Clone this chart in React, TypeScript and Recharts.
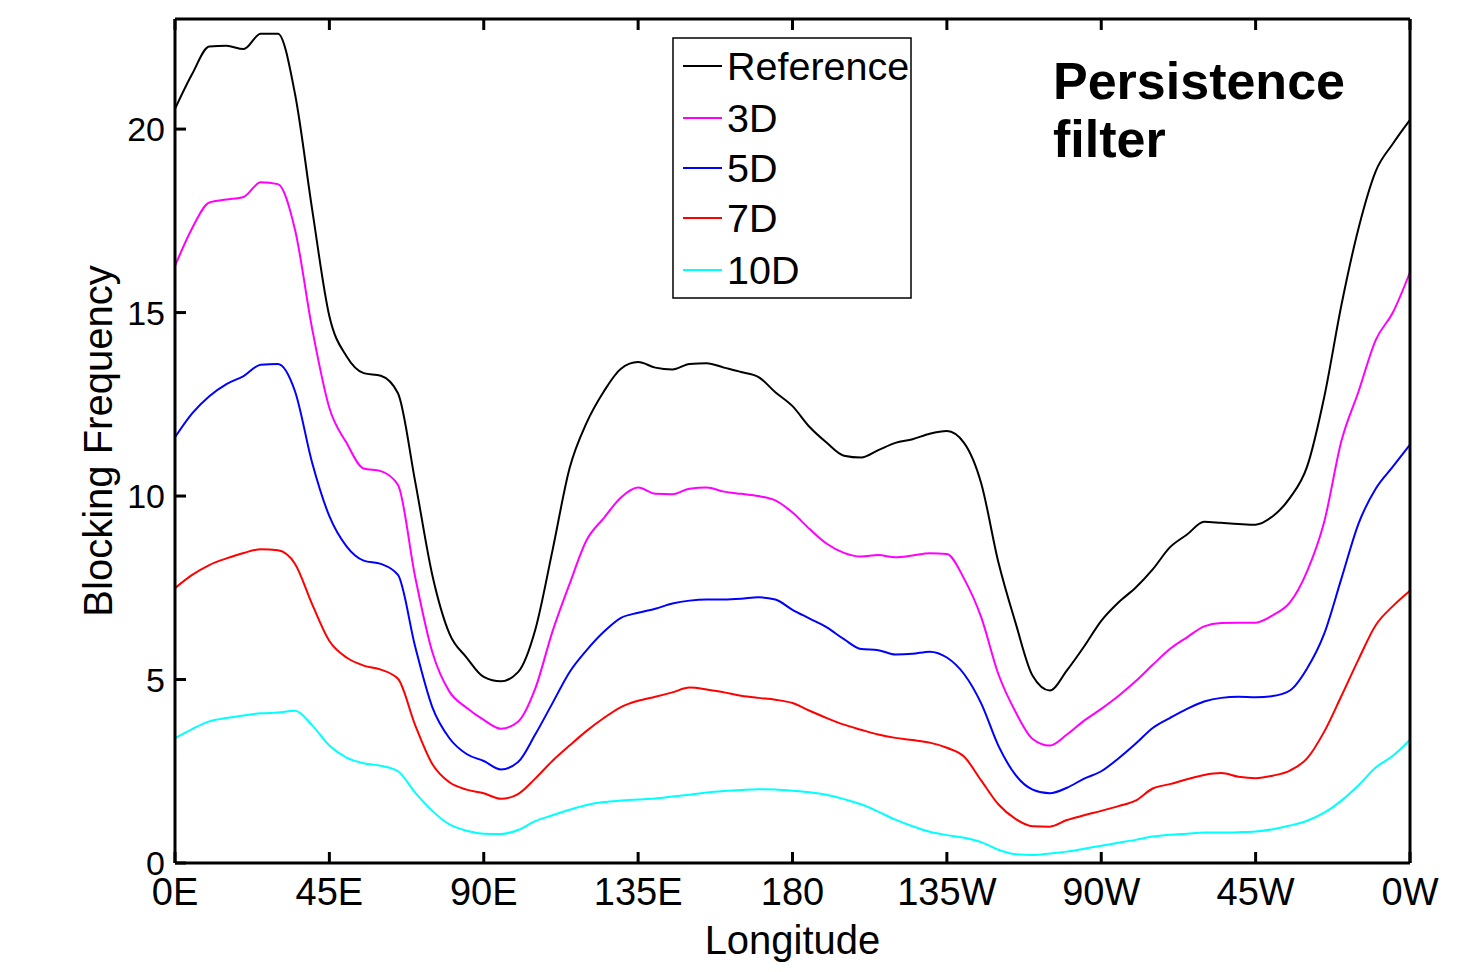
import React from 'react';
import { LineChart, Line, XAxis, YAxis, Legend, Label } from 'recharts';

const FONT = '"Liberation Sans", Arial, Helvetica, sans-serif';

const longitudes = [
  0, 5, 10, 15, 20, 25, 30, 35, 40, 45, 50, 55, 60, 65, 70, 75, 80, 85, 90, 95,
  100, 105, 110, 115, 120, 125, 130, 135, 140, 145, 150, 155, 160, 165, 170, 175, 180, 185, 190, 195,
  200, 205, 210, 215, 220, 225, 230, 235, 240, 245, 250, 255, 260, 265, 270, 275, 280, 285, 290, 295,
  300, 305, 310, 315, 320, 325, 330, 335, 340, 345, 350, 355, 360,
];

const reference = [
  20.55, 21.5, 22.25, 22.27, 22.18, 22.6, 22.6, 20.95, 17.8, 14.9, 13.81, 13.35, 13.28, 12.8, 10.4, 7.85, 6.25, 5.6, 5.07, 4.95,
  5.2, 6.35, 8.5, 10.75, 12.0, 12.85, 13.47, 13.65, 13.5, 13.45, 13.6, 13.62, 13.5, 13.38, 13.25, 12.83, 12.45, 11.88, 11.45, 11.1,
  11.05, 11.25, 11.45, 11.55, 11.7, 11.77, 11.45, 10.35, 8.2, 6.55, 5.1, 4.7, 5.25, 5.9, 6.6, 7.1, 7.5, 8.0, 8.6, 8.95,
  9.3, 9.27, 9.24, 9.22, 9.45, 9.95, 10.8, 12.7, 15.2, 17.3, 18.85, 19.6, 20.25,
];

const d3 = [
  16.27, 17.3, 18.0, 18.08, 18.15, 18.55, 18.5, 17.25, 14.55, 12.4, 11.45, 10.75, 10.68, 10.3, 7.8, 5.75, 4.67, 4.23, 3.9, 3.66,
  3.85, 4.75, 6.3, 7.6, 8.8, 9.4, 9.96, 10.23, 10.06, 10.05, 10.2, 10.23, 10.12, 10.06, 10.0, 9.88, 9.55, 9.1, 8.7, 8.45,
  8.35, 8.39, 8.33, 8.38, 8.44, 8.42, 7.75, 6.7, 5.15, 4.12, 3.38, 3.2, 3.5, 3.88, 4.2, 4.55, 4.95, 5.4, 5.83, 6.15,
  6.45, 6.54, 6.55, 6.55, 6.75, 7.1, 7.95, 9.3, 11.5, 12.85, 14.25, 15.0, 16.1,
];

const d5 = [
  11.6, 12.25, 12.72, 13.05, 13.27, 13.58, 13.6, 12.85, 10.9, 9.45, 8.63, 8.24, 8.15, 7.85, 5.9, 4.25, 3.4, 2.97, 2.78, 2.55,
  2.75, 3.5, 4.35, 5.2, 5.8, 6.3, 6.68, 6.82, 6.93, 7.07, 7.15, 7.18, 7.18, 7.2, 7.24, 7.18, 6.9, 6.66, 6.42, 6.1,
  5.83, 5.8, 5.68, 5.7, 5.76, 5.6, 5.15, 4.35, 3.2, 2.4, 2.0, 1.9, 2.05, 2.3, 2.5, 2.85, 3.25, 3.68, 3.95, 4.2,
  4.4, 4.5, 4.53, 4.52, 4.55, 4.7, 5.3, 6.25, 7.75, 9.25, 10.2, 10.8, 11.4,
];

const d7 = [
  7.49, 7.85, 8.12, 8.3, 8.45, 8.55, 8.52, 8.15, 7.05, 6.05, 5.6, 5.38, 5.27, 5.02, 3.76, 2.7, 2.2, 2.0, 1.9, 1.75,
  1.88, 2.3, 2.78, 3.2, 3.6, 3.95, 4.25, 4.42, 4.53, 4.65, 4.78, 4.73, 4.65, 4.56, 4.5, 4.45, 4.36, 4.15, 3.95, 3.77,
  3.63, 3.5, 3.41, 3.35, 3.28, 3.14, 2.9, 2.25, 1.6, 1.2, 1.0, 0.99, 1.17, 1.3, 1.42, 1.55, 1.7, 2.03, 2.15, 2.28,
  2.4, 2.45, 2.35, 2.31, 2.38, 2.52, 2.85, 3.58, 4.55, 5.55, 6.48, 7.0, 7.42,
];

const d10 = [
  3.4, 3.65, 3.86, 3.95, 4.02, 4.08, 4.1, 4.15, 3.75, 3.2, 2.87, 2.72, 2.65, 2.5, 1.92, 1.42, 1.05, 0.88, 0.8, 0.79,
  0.9, 1.14, 1.3, 1.45, 1.58, 1.66, 1.7, 1.73, 1.76, 1.81, 1.86, 1.92, 1.96, 1.99, 2.01, 2.0, 1.97, 1.93, 1.86, 1.74,
  1.6, 1.4, 1.18, 1.0, 0.85, 0.76, 0.69, 0.57, 0.36, 0.24, 0.22, 0.26, 0.31, 0.39, 0.47, 0.55, 0.63, 0.72, 0.77, 0.8,
  0.83, 0.83, 0.84, 0.86, 0.92, 1.02, 1.15, 1.37, 1.7, 2.12, 2.6, 2.92, 3.36,
];

const seriesKeys = ['ref', 'd3', 'd5', 'd7', 'd10'];
const seriesNames = ['Reference', '3D', '5D', '7D', '10D'];
const seriesColors = ['#000000', '#ff00ff', '#0000ff', '#ff0000', '#00ffff'];
const seriesValues = [reference, d3, d5, d7, d10];

const xTicks = [0, 45, 90, 135, 180, 225, 270, 315, 360];
const xTickLabels = ['0E', '45E', '90E', '135E', '180', '135W', '90W', '45W', '0W'];
const yTicks = [0, 5, 10, 15, 20];

const data = longitudes.map((lon, i) => {
  const row: Record<string, number> = { lon };
  seriesKeys.forEach((k, s) => {
    row[k] = seriesValues[s][i];
  });
  return row;
});

const TICK_LEN = 11;
const AX_W = 3;

const BottomTick = (props: any) => {
  const { x, y, payload } = props;
  const idx = xTicks.indexOf(payload.value);
  return (
    <g>
      <line x1={x} y1={y} x2={x} y2={y - TICK_LEN} stroke="#000" strokeWidth={AX_W} />
      <text x={x} y={y + 42} textAnchor="middle" fontSize={38} fontFamily={FONT} fill="#000">
        {idx >= 0 ? xTickLabels[idx] : String(payload.value)}
      </text>
    </g>
  );
};

const TopTick = (props: any) => {
  const { x, y } = props;
  return <line x1={x} y1={y} x2={x} y2={y + TICK_LEN} stroke="#000" strokeWidth={AX_W} />;
};

const LeftTick = (props: any) => {
  const { x, y, payload } = props;
  return (
    <g>
      <line x1={x} y1={y} x2={x + TICK_LEN} y2={y} stroke="#000" strokeWidth={AX_W} />
      <text x={x - 10} y={y + 12} textAnchor="end" fontSize={34} fontFamily={FONT} fill="#000">
        {payload.value}
      </text>
    </g>
  );
};

const RightTick = (props: any) => {
  const { x, y } = props;
  return <line x1={x} y1={y} x2={x - TICK_LEN} y2={y} stroke="#000" strokeWidth={AX_W} />;
};

const LegendBox = () => {
  const rowY = [29, 81, 131, 181, 233];
  return (
    <svg width={240} height={262} style={{ overflow: 'visible', display: 'block' }}>
      <rect x={1} y={1} width={238} height={260} fill="#fff" stroke="#000" strokeWidth={1.5} />
      {seriesNames.map((name, i) => (
        <g key={name}>
          <line x1={11} y1={rowY[i]} x2={50} y2={rowY[i]} stroke={seriesColors[i]} strokeWidth={2} />
          <text x={55} y={rowY[i] + 13.5} fontSize={39.5} fontFamily={FONT} fill="#000">
            {name}
          </text>
        </g>
      ))}
    </svg>
  );
};

export default function App() {
  return (
    <div style={{ position: 'relative', width: 1466, height: 956 }}>
      <LineChart
        width={1466}
        height={956}
        data={data}
        margin={{ top: 10, right: 63, bottom: 31, left: 12 }}
      >
        <XAxis
          dataKey="lon"
          type="number"
          domain={[0, 360]}
          ticks={xTicks}
          interval={0}
          height={70}
          tickSize={0}
          tickMargin={0}
          tickLine={false}
          axisLine={{ stroke: '#000', strokeWidth: AX_W }}
          tick={<BottomTick />}
        >
          <Label
            value="Longitude"
            position="bottom"
            offset={-7}
            fontSize={40}
            fontFamily={FONT}
            fill="#000"
          />
        </XAxis>
        <XAxis
          xAxisId="top"
          orientation="top"
          dataKey="lon"
          type="number"
          domain={[0, 360]}
          ticks={xTicks}
          interval={0}
          height={1}
          tickSize={0}
          tickMargin={0}
          tickLine={false}
          axisLine={{ stroke: '#000', strokeWidth: AX_W }}
          tick={<TopTick />}
        />
        <YAxis
          type="number"
          domain={[0, 23]}
          ticks={yTicks}
          interval={0}
          width={155}
          tickSize={0}
          tickMargin={0}
          tickLine={false}
          axisLine={{ stroke: '#000', strokeWidth: AX_W }}
          tick={<LeftTick />}
        >
          <Label
            value="Blocking Frequency"
            angle={-90}
            position="center"
            fontSize={40}
            fontFamily={FONT}
            fill="#000"
          />
        </YAxis>
        <YAxis
          yAxisId="right"
          orientation="right"
          type="number"
          domain={[0, 23]}
          ticks={yTicks}
          interval={0}
          width={1}
          tickSize={0}
          tickMargin={0}
          tickLine={false}
          axisLine={{ stroke: '#000', strokeWidth: AX_W }}
          tick={<RightTick />}
        />
        {seriesKeys.map((k, i) => (
          <Line
            key={k}
            dataKey={k}
            name={seriesNames[i]}
            stroke={seriesColors[i]}
            strokeWidth={2}
            dot={false}
            activeDot={false}
            type="monotone"
            isAnimationActive={false}
          />
        ))}
        <Legend
          layout="horizontal"
          verticalAlign="middle"
          align="center"
          content={<LegendBox />}
          wrapperStyle={{ position: 'absolute', left: 664, top: 29, width: 240, height: 262 }}
        />
      </LineChart>
      <div
        style={{
          position: 'absolute',
          left: 1045,
          top: 44,
          fontFamily: FONT,
          fontWeight: 'bold',
          fontSize: 52,
          lineHeight: '58px',
          color: '#000',
        }}
      >
        Persistence
        <br />
        filter
      </div>
    </div>
  );
}
